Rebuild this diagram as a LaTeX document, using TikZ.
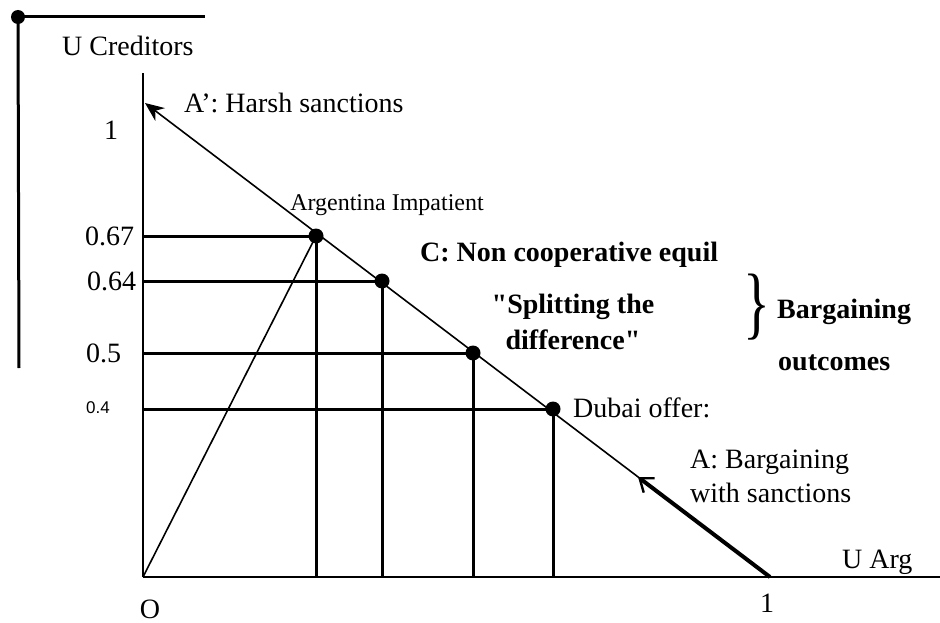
\documentclass[tikz,border=0pt]{standalone}
\usepackage{fontspec}
\setmainfont{Liberation Serif}
\newfontfamily\arialfont{Liberation Sans}
\usetikzlibrary{arrows.meta}
\tikzset{
  lbl/.style={inner sep=0pt,font=\fontsize{28}{34}\selectfont},
  blbl/.style={inner sep=0pt,font=\fontsize{28}{36}\selectfont\bfseries},
  smalllbl/.style={inner sep=0pt,font=\fontsize{24}{26}\selectfont},
  guide/.style={line width=3pt,black},
  axis/.style={line width=1.8pt},
  pt/.style={circle,fill=black,inner sep=0pt,minimum size=15pt},
}
\begin{document}
\begin{tikzpicture}[x=1pt,y=-1pt]
\useasboundingbox (0,0) rectangle (940,623);
% top-left corner mark
\node[pt,minimum size=14pt] (cm) at (18,17) {};
\coordinate (cmr) at (205,17);
\coordinate (cmb) at (19,368);
\draw[line width=3pt] (cm.center) -- (cmr);
\draw[line width=3pt] (cm.center) -- (cmb);
% axes
\coordinate (O) at (143,577);
\coordinate (ytop) at (143,73);
\coordinate (xend) at (940,577);
\draw[axis] (O) -- (ytop);
\draw[line width=2.4pt] (O) -- (xend);
% frontier
\coordinate (X1) at (770,577);
\coordinate (Y1) at (145,103);
\draw[line width=1.6pt,-{Stealth[length=19pt,width=16pt]}] (X1) -- (Y1);
\coordinate (Amid) at (638,477);
\draw[line width=4pt,-{Straight Barb[length=12pt,width=18pt,line width=2.4pt]}] (X1) -- (Amid);
% points
\node[pt] (p1) at (316,236) {};
\node[pt] (p2) at (382,281) {};
\node[pt] (p3) at (473,353) {};
\node[pt] (p4) at (553,409) {};
\foreach \n/\x/\y in {1/316/236,2/382/281,3/473/353,4/553/409}{
  \coordinate (h\n) at (143,\y);
  \coordinate (v\n) at (\x,577);
}
\foreach \n in {1,2,3,4}{
  \draw[guide] (h\n) -- (p\n.center);
  \draw[guide] (p\n.center) -- (v\n);
}
\draw[line width=1.6pt] (O) -- (p1.center);
% labels
\node[lbl,anchor=west] (uc) at (62,46) {U Creditors};
\node[lbl,anchor=west] (ah) at (184,103) {A’: Harsh sanctions};
\node[lbl] (one1) at (111,130) {1};
\node[lbl,anchor=west] (l67) at (85,236) {0.67};
\node[lbl,anchor=west] (l64) at (87,281) {0.64};
\node[lbl,anchor=west] (l5) at (86,353) {0.5};
\node[inner sep=0pt,anchor=west,font=\arialfont\fontsize{17}{20}\selectfont] (l4) at (86,408) {0.4};
\node[smalllbl] (ai) at (387,205) {Argentina Impatient};
\node[blbl,anchor=west] (ce) at (420,255) {C: Non cooperative equil};
\node[blbl,align=center] (sd) at (573,322) {\textquotedbl Splitting the\\difference\textquotedbl};
\node[inner sep=0pt] (br) at (757,307) {\scalebox{0.7}[1]{\fontsize{80}{80}\selectfont\}}};
\node[blbl,anchor=west] (bo1) at (777,312) {Bargaining};
\node[blbl,anchor=west] (bo2) at (778,363) {outcomes};
\node[lbl,anchor=west] (du) at (573,408) {Dubai offer:};
\node[lbl,align=left,anchor=west] (ab) at (690,476) {A: Bargaining\\with sanctions};
\node[lbl,anchor=west] (ua) at (842,562) {U Arg};
\node[lbl] (one2) at (767,603) {1};
\node[lbl] (ol) at (150,609) {O};
\end{tikzpicture}
\end{document}
